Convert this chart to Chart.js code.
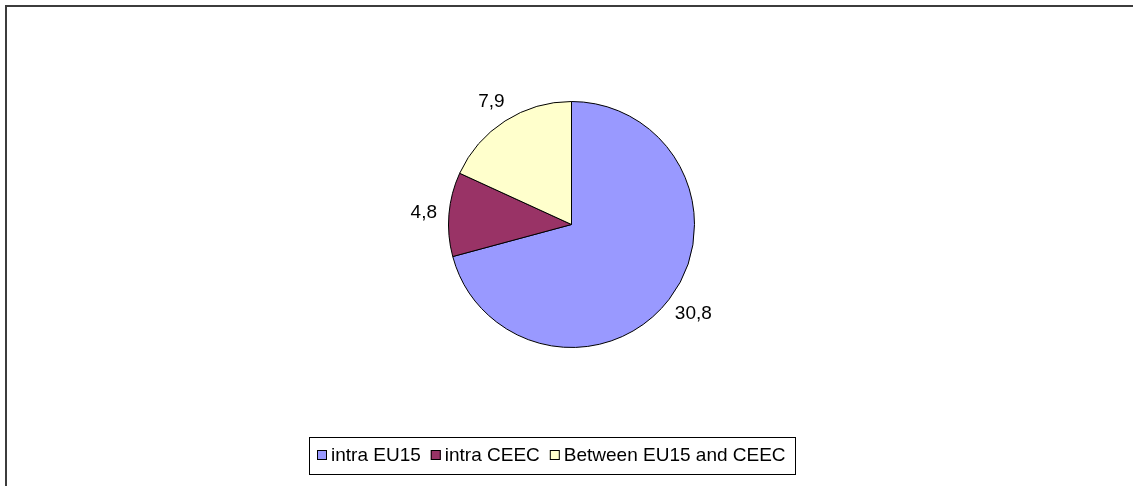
<!DOCTYPE html>
<html>
<head>
<meta charset="utf-8">
<title>Trade shares</title>
<script src="https://cdn.jsdelivr.net/npm/chart.js@4/dist/chart.umd.min.js"></script>
<style>
  html, body { margin: 0; padding: 0; background: #fff; }
  #wrap { position: relative; width: 1133px; height: 486px; overflow: hidden; }
  #frame {
    position: absolute; left: 5px; top: 5px; width: 1200px; height: 600px;
    border-left: 2px solid #3c3c3c; border-top: 2px solid #3c3c3c;
  }
  #chart { position: absolute; left: 0; top: 0; }
</style>
</head>
<body>
<div id="wrap">
  <div id="frame"></div>
  <canvas id="chart" width="1133" height="486"></canvas>
</div>
<script>
// Categories and values
const categories = ['intra EU15', 'intra CEEC', 'Between EU15 and CEEC'];
const values = [30.8, 4.8, 7.9];
const sliceColors = ['#9999FF', '#993366', '#FFFFCC'];

const FONT = 'Arial, "Liberation Sans", sans-serif';

// Value labels just outside each slice, with decimal comma
const sliceLabels = {
  id: 'sliceLabels',
  afterDatasetsDraw(chart) {
    const ctx = chart.ctx;
    const meta = chart.getDatasetMeta(0);
    ctx.save();
    ctx.font = '19px ' + FONT;
    ctx.fillStyle = '#000';
    ctx.textAlign = 'center';
    ctx.textBaseline = 'middle';
    meta.data.forEach((arc, i) => {
      const p = arc.getProps(['x', 'y', 'startAngle', 'endAngle', 'outerRadius'], true);
      const mid = (p.startAngle + p.endAngle) / 2;
      const dx = Math.cos(mid), dy = Math.sin(mid);
      const text = String(values[i]).replace('.', ',');
      const w = ctx.measureText(text).width;
      const h = 22;
      const ex = p.x + dx * (p.outerRadius + 12);
      const ey = p.y + dy * (p.outerRadius + 12);
      ctx.fillText(text, ex + dx * w / 2, ey + dy * h / 2);
    });
    ctx.restore();
  }
};

// Boxed legend along the bottom
const boxedLegend = {
  id: 'boxedLegend',
  afterDraw(chart) {
    const ctx = chart.ctx;
    const labels = chart.data.labels;
    const colors = chart.data.datasets[0].backgroundColor;
    ctx.save();
    ctx.font = '19px ' + FONT;
    ctx.textBaseline = 'alphabetic';
    const box = 10, gapText = 4, gapItem = 10;
    let total = 0;
    labels.forEach((l, i) => {
      total += box + gapText + ctx.measureText(l).width + (i < labels.length - 1 ? gapItem : 0);
    });
    const boxLeft = 309, boxTop = 437, boxH = 37;
    const padL = 8;
    const boxW = Math.round(total + padL + 9);
    ctx.strokeStyle = '#000';
    ctx.lineWidth = 1;
    ctx.strokeRect(boxLeft + 0.5, boxTop + 0.5, boxW, boxH);
    let x = boxLeft + padL;
    labels.forEach((l, i) => {
      ctx.fillStyle = colors[i];
      ctx.fillRect(x, 450, box, box);
      ctx.strokeStyle = '#000';
      ctx.strokeRect(x + 0.5, 450.5, box - 1, box - 1);
      x += box + gapText;
      ctx.fillStyle = '#000';
      ctx.fillText(l, x, 461);
      x += ctx.measureText(l).width + gapItem;
    });
    ctx.restore();
  }
};

new Chart(document.getElementById('chart'), {
  type: 'pie',
  data: {
    labels: categories,
    datasets: [{
      data: values,
      backgroundColor: sliceColors,
      borderColor: '#000',
      borderWidth: 1
    }]
  },
  options: {
    responsive: false,
    animation: false,
    layout: {
      padding: { left: 448, right: 438, top: 101, bottom: 138 }
    },
    plugins: {
      legend: { display: false },
      tooltip: { enabled: false }
    }
  },
  plugins: [sliceLabels, boxedLegend]
});
</script>
</body>
</html>
